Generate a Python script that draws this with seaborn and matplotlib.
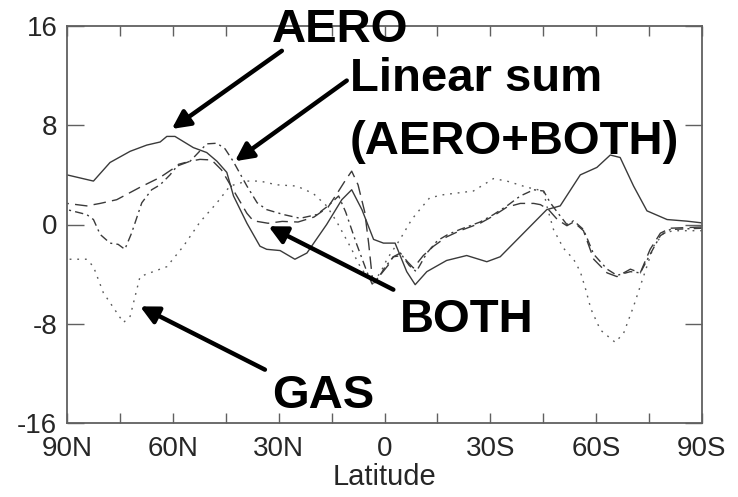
import numpy as np
import pandas as pd
import matplotlib
matplotlib.use("Agg")
import matplotlib.pyplot as plt
import seaborn as sns

# ---------------- data ----------------
aero_lat = [90, 82.5, 77.8, 72.1, 67.4, 63.6, 61.7, 59.4, 54.2, 50.4, 47.5, 44.7, 42.8, 39.0,
            35.3, 33.4, 29.6, 25.4, 22.0, 16.4, 12.1, 9.3, 6.4, 3.1, 0.3, -3.0, -6.3, -8.7,
            -12.0, -17.6, -23.3, -29.0, -32.8, -39.4, -46.0, -49.8, -55.5, -60.2, -64.0,
            -66.8, -70.6, -74.4, -80.1, -85.7, -90]
aero_val = [4.0, 3.5, 5.0, 5.9, 6.4, 6.65, 7.1, 7.1, 6.2, 5.8, 5.1, 4.2, 2.3, 0.1,
            -1.75, -2.0, -2.1, -2.8, -2.3, 0.0, 2.0, 2.8, 1.2, -1.2, -1.5, -1.5, -3.8, -4.85,
            -3.8, -2.9, -2.5, -3.0, -2.6, -0.7, 1.2, 1.5, 4.0, 4.6, 5.6,
            5.4, 3.1, 1.1, 0.4, 0.27, 0.13]

gas_lat = [90, 84.4, 82.5, 79.7, 75.9, 74.0, 72.1, 69.3, 66.5, 61.7, 57.0, 52.3, 47.5, 43.8,
           39.0, 35.3, 30.6, 24.9, 20.2, 16.4, 13.5, 11.2, 9.3, 7.5, 5.0, 3.0, 1.0, -0.7,
           -4.4, -7.7, -10.0, -12.8, -16.7, -25.2, -30.9, -34.7, -40.4, -45.1, -46.0, -47.9,
           -50.7, -53.6, -55.5, -57.0, -58.5, -61.2, -65.4, -67.8, -70.6, -73.4, -76.3,
           -79.1, -81.9, -90]
gas_val = [-2.8, -2.8, -3.4, -5.5, -7.1, -7.9, -7.4, -4.2, -3.9, -3.4, -1.75, 0.2, 1.75, 3.1,
           3.5, 3.5, 3.2, 3.1, 2.5, 1.5, 0.2, -1.0, -2.0, -3.1, -4.2, -4.6, -3.8, -2.8,
           -1.2, 0.4, 1.2, 2.15, 2.4, 2.7, 3.7, 3.5, 3.0, 2.7, 1.5, -0.4,
           -1.9, -2.8, -3.8, -5.2, -6.8, -8.5, -9.5, -8.75, -6.6, -4.2, -1.75,
           -0.7, -0.5, -0.5]

both_lat = [90, 84.4, 80.6, 75.9, 69.3, 63.6, 58.9, 55.1, 52.3, 49.0, 46.2, 42.9, 39.0, 37.2,
            33.0, 29.0, 24.5, 20.0, 16.0, 13.0, 11.0, 9.3, 7.5, 5.6, 4.5, 3.5, 2.7, 1.0,
            -1.0, -2.5, -4.5, -6.5, -8.2, -11.0, -13.9, -17.6, -21.4, -27.1, -30.9, -34.7,
            -38.5, -42.3, -44.2, -46.5, -49.0, -51.7, -53.6, -56.4, -59.3, -63.1, -65.9,
            -69.7, -72.5, -75.3, -78.2, -81.0, -90]
both_val = [1.7, 1.5, 1.7, 2.0, 3.0, 3.8, 4.7, 5.1, 5.25, 5.2, 4.4, 2.8, 0.9, 0.3,
            0.1, 0.25, 0.2, 0.6, 1.4, 2.7, 3.6, 4.3, 3.2, 1.0, -1.5, -4.2, -4.7, -4.0,
            -3.3, -2.6, -2.3, -3.0, -3.5, -2.5, -1.75, -1.0, -0.5, 0.1, 0.7, 1.4,
            1.7, 1.7, 1.6, 1.2, 0.4, -0.1, 0.2, -0.5, -2.8, -3.9, -4.2,
            -3.6, -3.9, -2.0, -0.7, -0.3, -0.2]

lsum_lat = [90, 84.4, 82.5, 80.6, 77.8, 75.5, 73.6, 71.7, 68.8, 66.0, 63.6, 60.8, 58.4, 55.1,
            50.4, 47.5, 45.2, 42.9, 39.0, 36.1, 33.4, 28.6, 23.9, 19.2, 16.0, 13.0, 11.0,
            8.0, 6.3, 5.0, 3.5, 1.5, 0.0, -2.5, -5.0, -7.0, -9.0, -12.0, -15.0, -18.0,
            -21.4, -27.1, -30.9, -34.7, -38.5, -42.3, -45.1, -47.0, -49.5, -51.7, -53.6,
            -56.4, -59.3, -63.1, -65.9, -69.7, -72.5, -75.3, -78.2, -81.0, -90]
lsum_val = [1.2, 0.8, 0.4, -0.8, -1.5, -1.6, -2.0, -0.7, 1.75, 2.8, 3.2, 4.0, 4.85, 5.1,
            6.5, 6.55, 6.1, 5.1, 3.1, 1.75, 1.2, 0.8, 0.5, 0.8, 1.5, 2.3, 1.0,
            -1.5, -2.8, -3.8, -4.8, -4.2, -3.5, -2.6, -2.5, -3.3, -3.8, -2.3, -1.3, -0.8,
            -0.4, 0.2, 0.8, 1.5, 2.3, 2.8, 2.7, 1.75, 0.8, 0.0, 0.3,
            -0.4, -2.4, -3.6, -4.1, -3.8, -3.9, -2.4, -0.9, -0.4, -0.3]

series_names = ["AERO", "GAS", "BOTH", "Linear sum"]
y_ticks = [-16, -8, 0, 8, 16]
x_tick_pos = [90, 60, 30, 0, -30, -60, -90]
x_tick_labels = ["90N", "60N", "30N", "0", "30S", "60S", "90S"]

# ---------------- build frame ----------------
frames = []
for name, la, va in zip(series_names,
                        [aero_lat, gas_lat, both_lat, lsum_lat],
                        [aero_val, gas_val, both_val, lsum_val]):
    frames.append(pd.DataFrame({"lat": la, "val": va, "series": name}))
df = pd.concat(frames, ignore_index=True)

sns.set_theme(style="ticks")
plt.rcParams["font.family"] = ["Liberation Sans", "DejaVu Sans"]

fig = plt.figure(figsize=(7.38, 4.97), dpi=100)
ax = fig.add_axes([67 / 738, 1 - 423 / 497, 635 / 738, 397 / 497])

palette = {"AERO": "#3a3a3a", "GAS": "#5a5a5a", "BOTH": "#3a3a3a", "Linear sum": "#3a3a3a"}
dashes = {"AERO": "", "GAS": (1.3, 4.2), "BOTH": (9, 4.5), "Linear sum": (6, 3, 1.5, 3)}

sns.lineplot(data=df, x="lat", y="val", hue="series", style="series",
             palette=palette, dashes=dashes, estimator=None, sort=True,
             linewidth=1.0, legend=False, ax=ax)

ax.set_xlim(90, -90)
ax.set_ylim(-16, 16)
ax.set_yticks(y_ticks)
ax.set_yticklabels([str(t) for t in y_ticks])
ax.set_xticks(x_tick_pos)
ax.set_xticklabels(x_tick_labels)
ax.set_xticks(np.arange(-75, 90, 30), minor=True)
ax.set_xlabel("Latitude", fontsize=21, labelpad=1)
ax.set_ylabel("")

for sp in ax.spines.values():
    sp.set_visible(True)
    sp.set_color("#606060")
    sp.set_linewidth(1.3)

ax.tick_params(axis="both", which="both", direction="in", top=True, right=True,
               color="#606060", width=1.0)
ax.tick_params(axis="x", which="both", length=7, labelsize=20, pad=9)
ax.tick_params(axis="y", which="major", length=12, labelsize=20, pad=7)

# ---------------- annotations ----------------
txt_kw = dict(fontsize=34, fontweight="bold", color="black", ha="left", va="baseline",
              clip_on=False)
ax.text(31.9, 14.7, "AERO", **txt_kw)
ax.text(9.8, 10.75, "Linear sum", **txt_kw)
ax.text(9.8, 5.66, "(AERO+BOTH)", **txt_kw)
ax.text(-4.4, -8.65, "BOTH", **txt_kw)
ax.text(31.9, -14.8, "GAS", **txt_kw)

arr = dict(arrowstyle="-|>,head_length=0.9,head_width=0.45", color="black", lw=3.2,
           shrinkA=0, shrinkB=0)
ax.annotate("", xy=(60.3, 7.7), xytext=(29.1, 14.0), arrowprops=arr, annotation_clip=False)
ax.annotate("", xy=(42.4, 5.1), xytext=(10.7, 11.6), arrowprops=arr, annotation_clip=False)
ax.annotate("", xy=(32.9, -0.14), xytext=(-2.5, -5.25), arrowprops=arr, annotation_clip=False)
ax.annotate("", xy=(69.3, -6.6), xytext=(33.9, -11.7), arrowprops=arr, annotation_clip=False)

fig.savefig("out.png", dpi=100)
